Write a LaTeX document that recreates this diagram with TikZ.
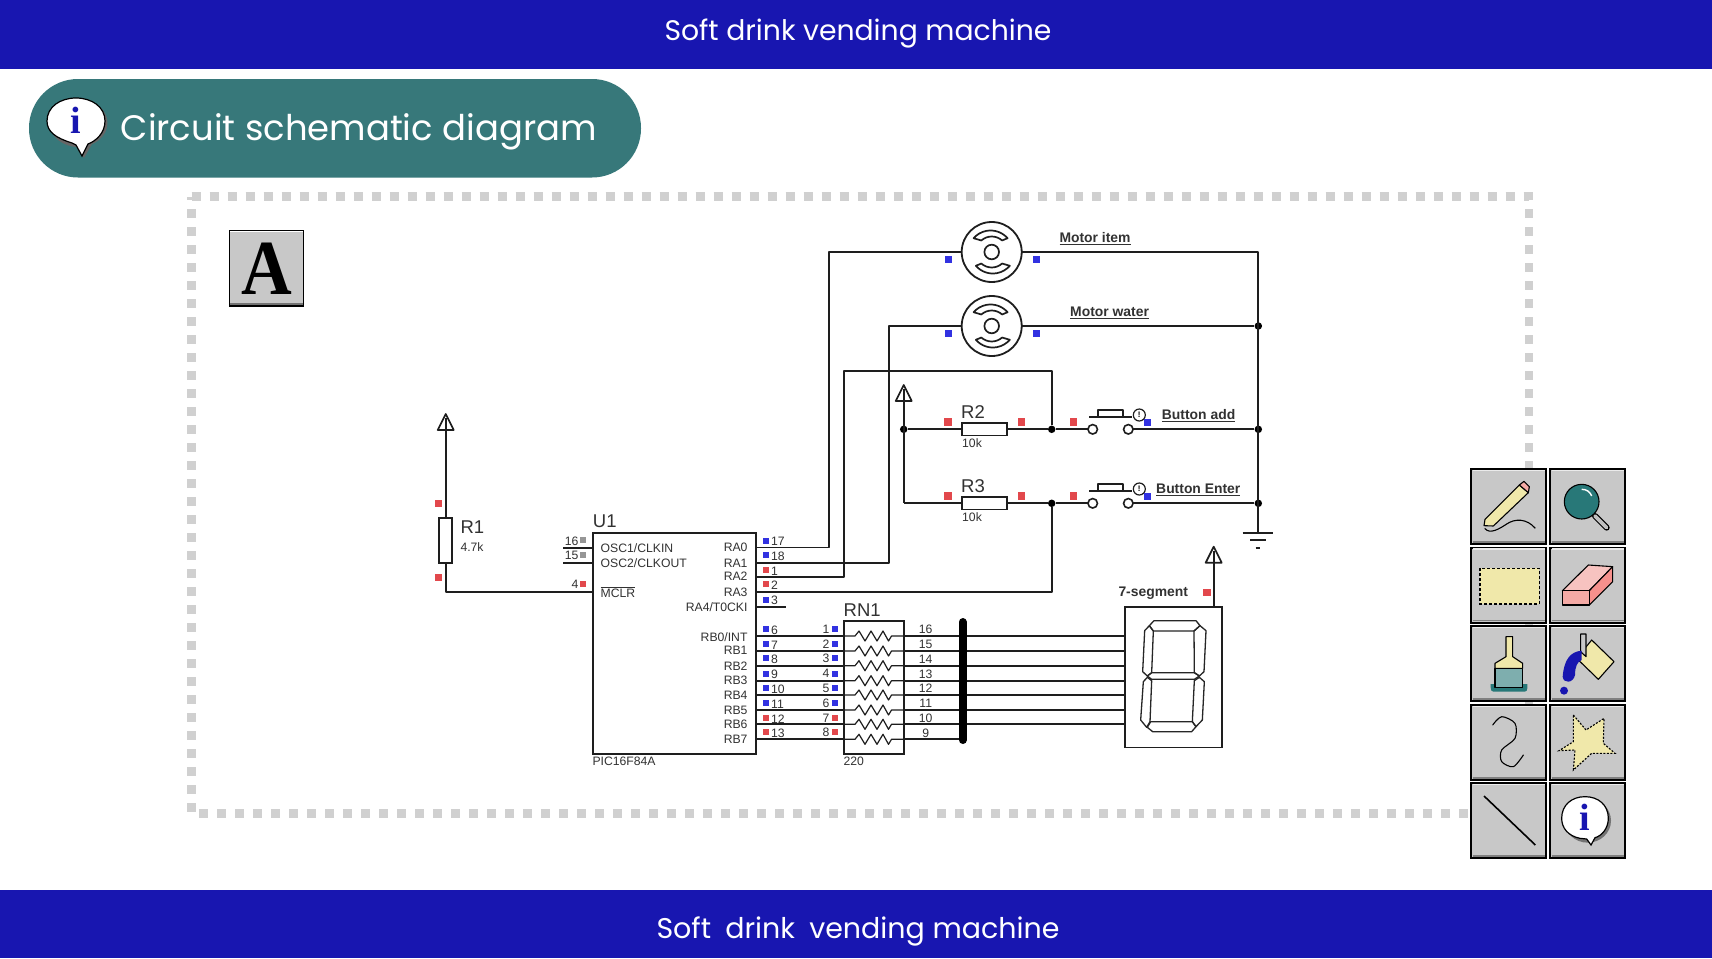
\documentclass[tikz,border=0pt]{standalone}
\usepackage{fontspec}
\setmainfont{Liberation Sans}
\newfontfamily\titlefont{Poppins}
\newfontfamily\serifb{Liberation Serif}
\definecolor{band}{RGB}{24,22,176}
\definecolor{pillc}{RGB}{55,120,122}
\definecolor{dotc}{RGB}{208,208,208}
\definecolor{btn}{RGB}{200,200,200}
\definecolor{wirec}{RGB}{30,30,30}
\definecolor{pinr}{RGB}{226,72,76}
\definecolor{pinb}{RGB}{50,50,225}
\definecolor{ping}{RGB}{150,150,150}
\definecolor{txtc}{RGB}{50,50,50}
\definecolor{yel}{RGB}{240,232,170}
\definecolor{pinkc}{RGB}{244,170,165}
\definecolor{tealc}{RGB}{40,120,120}
\tikzset{
 wire/.style={draw=wirec,line width=1.7pt,line join=round},
 pr/.style={fill=pinr,inner sep=0,minimum size=7.5pt},
 pb/.style={fill=pinb,inner sep=0,minimum size=7pt},
 pg/.style={fill=ping,inner sep=0,minimum size=6pt},
 prs/.style={fill=pinr,inner sep=0,minimum size=6pt},
 pbs/.style={fill=pinb,inner sep=0,minimum size=6pt},
 small/.style={text=txtc,inner sep=0,font=\fontsize{12.2}{13}\selectfont},
 big/.style={text=txtc,inner sep=0,anchor=west,font=\fontsize{18.5}{19}\selectfont},
 bold/.style={text=txtc,inner sep=0,font=\fontsize{13.9}{14}\selectfont\bfseries},
 res/.style={draw=wirec,line width=1.7pt,fill=white,inner sep=0,outer sep=0},
 junc/.style={circle,fill=black,inner sep=0,minimum size=7.5pt},
 motor/.style={circle,draw=wirec,line width=1.8pt,minimum size=60pt,inner sep=0,outer sep=0},
 swp/.style={circle,draw=wirec,line width=1.6pt,fill=white,minimum size=9.5pt,inner sep=0,outer sep=0},
 tool/.style={draw=black,line width=2pt,fill=btn,minimum width=75pt,minimum height=75pt,inner sep=0,outer sep=0},
 ic/.style={draw=black,line width=1.1pt,line join=round},
 pad/.style={text=white,inner sep=0},
 box/.style={draw=wirec,line width=1.8pt,inner sep=0,outer sep=0,anchor=north west}
}
\newcommand{\vccsym}[2]{\draw[wire,fill=white] (#1,#2) -- (#1-8,#2+16) -- (#1+8,#2+16) -- cycle; \draw[wire] (#1,#2+4) -- (#1,#2+16);}
\begin{document}
\begin{tikzpicture}[x=1pt,y=-1pt]
\useasboundingbox (0,0) rectangle (1712,958);
\fill[white] (0,0) rectangle (1712,958);
% bands
\fill[band] (0,0) rectangle (1712,69);
\fill[band] (0,890) rectangle (1712,958);
\node[pad] (head) at (858,33.5) {\resizebox{387pt}{!}{\titlefont\fontsize{26}{30}\selectfont Soft drink vending machine}};
\node[pad] (foot) at (858,931.5) {\resizebox{403pt}{!}{\titlefont\fontsize{26}{30}\selectfont Soft\hspace{6pt} drink\hspace{6pt} vending machine}};
% pill
\fill[pillc,rounded corners=49pt] (29,79) rectangle (641,177.5);
\node[pad,anchor=west] (ptitle) at (120.5,131.5) {\resizebox{476pt}{!}{\titlefont\fontsize{32}{40}\selectfont Circuit schematic diagram}};
% pill bubble
\fill[black!60] (78.5,123) ellipse [x radius=29, y radius=24];
\fill[black!60] (76,146) -- (84,158) -- (92,144) -- cycle;
\draw[black,line width=1.2pt,fill=white] (72,143) .. controls (56,138) and (47,132) .. (47,121) .. controls (47,107) and (60,98) .. (76,98) .. controls (92,98) and (105,107) .. (105,121) .. controls (105,133) and (96,141) .. (88,144) -- (82,156) -- (76,145) -- cycle;
\node[inner sep=0,text=band] (pi) at (76,120) {\serifb\bfseries\fontsize{38}{38}\selectfont i};
% dotted frame
\draw[dotc,line width=8.5pt,dash pattern=on 9pt off 9pt] (191.5,196.5) -- (1529,196.5) -- (1529,813.5) -- (191.5,813.5) -- cycle;
% A button
\node[draw=black,line width=1.6pt,fill=btn,minimum width=74pt,minimum height=75pt,inner sep=0] (abtn) at (266.5,268.5) {};
\draw[white,line width=1pt] (230,231.5) -- (303,231.5);
\draw[black!55,line width=1.2pt] (230,304) -- (303,304);
\node[inner sep=0,anchor=base] (atext) at (266.5,294.5) {\scalebox{0.9}[1]{\serifb\bfseries\fontsize{78}{78}\selectfont A}};
% === schematic ===
\node[box,minimum width=162.7pt,minimum height=220.7pt] (chip) at (593.3,533.3) {};
\node[box,minimum width=59.7pt,minimum height=133pt] (rn) at (844.3,621) {};
\node[box,minimum width=96.7pt,minimum height=140.7pt] (seg) at (1125,606.7) {};
\node[motor] (m1) at (991.7,252) {};
\node[motor] (m2) at (991.7,326) {};
% named points
\coordinate (ra0) at (756,547.5);
\coordinate (ra1) at (756,563);
\coordinate (ra2) at (756,577);
\coordinate (ra3) at (756,592);
\coordinate (ra4) at (756,607);
\coordinate (ra4e) at (786,607);
\coordinate (mclr) at (593.3,592);
\coordinate (osc1) at (593.3,547.7);
\coordinate (osc2) at (593.3,562.7);
\coordinate (osc1e) at (563.3,547.7);
\coordinate (osc2e) at (563.3,562.7);
\coordinate (m1w) at (829.3,252);
\coordinate (m2w) at (888.7,326);
\coordinate (n1) at (844.3,370.7);
\coordinate (rt) at (1258.3,252);
\coordinate (gnd) at (1258.3,532.7);
\coordinate (vr1) at (445.7,430);
\coordinate (vr2) at (903.7,401);
\coordinate (vseg) at (1213.7,563);
\coordinate (segtop) at (1213.7,606.7);
\node[junc] (j1) at (903.7,429.3) {};
\node[junc] (j2) at (1051.7,429.3) {};
\node[junc] (j3) at (1051.7,503.3) {};
\node[junc] (j4) at (1258.3,326) {};
\node[junc] (j5) at (1258.3,429.3) {};
\node[junc] (j6) at (1258.3,503.3) {};
\coordinate (j7) at (903.7,503.3);
\coordinate (r1b) at (445.7,592);
% wires
\draw[wire] (ra0) -| (m1w) -- (m1.west);
\draw[wire] (ra1) -| (m2w) -- (m2.west);
\draw[wire] (ra2) -| (n1) -| (j2);
\draw[wire] (ra3) -| (j3);
\draw[wire] (ra4) -- (ra4e);
\draw[wire] (osc1) -- (osc1e);
\draw[wire] (osc2) -- (osc2e);
\draw[wire] (m1.east) -- (rt) -- (gnd);
\draw[wire] (m2.east) -- (j4);
\draw[wire] (vr2) -- (j7);
\draw[wire] (vr1) -- (r1b) -- (mclr);
\draw[wire] (vseg) -- (segtop);
\vccsym{445.7}{414}
\vccsym{903.7}{385}
\vccsym{1213.7}{546.7}
% ground
\coordinate (g1) at (1242.7,532.7); \coordinate (g2) at (1273,532.7);
\coordinate (g3) at (1250,540); \coordinate (g4) at (1266,540);
\coordinate (g5) at (1255.7,547.7); \coordinate (g6) at (1260.3,547.7);
\draw[wire,line width=2pt] (g1) -- (g2); \draw[wire,line width=2pt] (g3) -- (g4); \draw[wire,line width=2pt] (g5) -- (g6);
% resistors
\node[res,minimum width=13pt,minimum height=45pt] (r1) at (445.7,540.2) {};
\node[res,minimum width=45pt,minimum height=12.5pt] (r2) at (984.8,429.3) {};
\node[res,minimum width=45pt,minimum height=12.5pt] (r3) at (984.8,503.3) {};
% switches
\foreach \n/\y in {a/429.3,b/503.3}{
  \node[swp] (sl\n) at (1092.7,\y) {};
  \node[swp] (sr\n) at (1128.3,\y) {};
  \coordinate (bl\n) at (1089,\y-12);
  \coordinate (br\n) at (1131.7,\y-12);
  \draw[wire] (bl\n) -- (br\n);
  \draw[wire] (1097.7,\y-12) -- (1097.7,\y-19.3) -- (1122.7,\y-19.3) -- (1122.7,\y-12);
  \node[circle,draw=wirec,line width=1.2pt,minimum size=12pt,inner sep=0,font=\fontsize{8}{8}\selectfont\bfseries] (sc\n) at (1139.3,\y-14.3) {!};
  \node[pb] (sq\n) at (1147,\y-7.3) {};
}
\draw[wire] (j1) -- (r2.west) (r2.east) -- (j2) -- (sla.west) (sra.east) -- (j5);
\draw[wire] (j7) -- (r3.west) (r3.east) -- (j3) -- (slb.west) (srb.east) -- (j6);
% motors inner
\foreach \c in {m1,m2}{
  \begin{scope}[shift={(\c)}]
  \draw[wirec,line width=1.7pt] (0,0) circle [radius=7.3];
  \draw[wirec,line width=1.7pt,line join=round] (48:15.5) arc [start angle=48,end angle=132,radius=15.5] -- (139:21) arc [start angle=139,end angle=41,radius=22.5] -- cycle;
  \draw[wirec,line width=1.7pt,line join=round] (228:15.5) arc [start angle=228,end angle=312,radius=15.5] -- (319:21) arc [start angle=319,end angle=221,radius=22.5] -- cycle;
  \end{scope}
}
% pin squares on motors etc
\foreach \x/\y [count=\i] in {948/259.7,1036.7/259.7,948/333.7,1036.7/333.7}{\node[pb] (mp\i) at (\x,\y) {};}
\foreach \x/\y [count=\i] in {948/422,1021.7/422,1073.3/422,948/496,1021.7/496,1073.3/496,438.3/503.7,438.3/577.7,1207/592.3}{\node[pr] (rp\i) at (\x,\y) {};}
% schematic labels
\node[big] (lr1) at (460.3,527.5) {R1};
\node[small,anchor=west] (vr1t) at (460.3,546.7) {4.7k};
\node[big] (lr2) at (961,411.7) {R2};
\node[small,anchor=west] (vr2t) at (962,443.5) {10k};
\node[big] (lr3) at (961,485.7) {R3};
\node[small,anchor=west] (vr3t) at (962,517) {10k};
\node[big] (lu1) at (592.7,521.5) {U1};
\node[small,anchor=west] (lpic) at (592.3,761.7) {PIC16F84A};
\node[big] (lrn) at (843.5,610.5) {RN1};
\node[small,anchor=west] (l220) at (843.3,761.3) {220};
\node[bold,anchor=west] (lm1) at (1059.3,239) {\underline{Motor item}};
\node[bold,anchor=west] (lm2) at (1070,312.5) {\underline{Motor water}};
\node[bold,anchor=west] (lb1) at (1161.7,416) {\underline{Button add}};
\node[bold,anchor=west] (lb2) at (1156,490) {\underline{Button Enter}};
\node[bold,anchor=west] (lseg) at (1118.3,592.8) {7-segment};
% chip text
\node[small,anchor=west] (p1) at (600.5,547.7) {OSC1/CLKIN};
\node[small,anchor=west] (p2) at (600.5,562.7) {OSC2/CLKOUT};
\node[small,anchor=west] (p3) at (600.5,592) {$\overline{\hbox{MCLR}}$};
\foreach \t/\y [count=\i] in {RA0/547.7,RA1/563,RA2/576.7,RA3/592.3,RA4\slash T0CKI/606.7,RB0\slash INT/636.7,RB1/650.7,RB2/666,RB3/680,RB4/695.3,RB5/710.7,RB6/724.3,RB7/739.7}{
  \node[small,anchor=east] (rl\i) at (747.7,\y) {\t};
}
% left pins
\node[small] (pn16) at (571.7,541.5) {16};
\node[small] (pn15) at (571.7,555) {15};
\node[small] (pn4) at (575,584.3) {4};
\node[pg] (ps16) at (583.3,540) {};
\node[pg] (ps15) at (583.3,555) {};
\node[prs] (ps4) at (583.3,584.3) {};
% right chip pins
\foreach \t/\y/\s [count=\i] in {17/540.7/pbs,18/555/pbs,1/570.3/prs,2/584.3/prs,3/599.7/pbs,6/629/pbs,7/644.3/pbs,8/658.3/pbs,9/673.7/pbs,10/688.3/pbs,11/703/pbs,12/718.3/prs,13/732.3/prs}{
  \node[\s] (cs\i) at (766,\y) {};
  \node[small,anchor=west] (cn\i) at (771,\y+1) {\t};
}
% RN1 rows
\foreach \y/\l/\ln/\rn/\s [count=\i] in {636/1/629/16/pbs,651/2/644/15/pbs,665.7/3/658.3/14/pbs,680.7/4/673.7/13/pbs,695/5/688/12/pbs,710/6/703/11/pbs,724.3/7/718/10/prs,739.3/8/732.3/9/prs}{
  \coordinate (a\i) at (756,\y);
  \coordinate (b\i) at (844.3,\y);
  \coordinate (c\i) at (904,\y);
  \coordinate (d\i) at (962.7,\y);
  \draw[wire] (a\i) -- (b\i);
  \draw[wirec,line width=1.2pt,line join=round] (b\i) -- ++(10.7,0) -- ++(4,-5) -- ++(6,10) -- ++(6,-10) -- ++(6,10) -- ++(6,-10) -- ++(5.5,10) -- ++(3,-5) -- (c\i);
  \draw[wire] (c\i) -- (d\i);
  \node[small] (nl\i) at (826,\ln) {\l};
  \node[\s] (ns\i) at (835,\ln) {};
  \node[small] (nr\i) at (925.7,\ln+0.5) {\rn};
}
\foreach \y [count=\i] in {636,651,665.7,680.7,695,710,724.3}{
  \coordinate (e\i) at (1125,\y);
  \draw[wire] (d\i) -- (e\i);
}
\coordinate (bus1) at (962.7,622);
\coordinate (bus2) at (962.7,740);
\draw[black,line width=8pt,line cap=round] (bus1) -- (bus2);
% seven segment
\begin{scope}[shift={(810,530)},scale=0.33333]
\foreach \p in {
 {(1018,287) -- (1032,272) -- (1158,272) -- (1170,287) -- (1152,303) -- (1030,303) -- cycle},
 {(1004,302) -- (1018,287) -- (1030,303) -- (1025,428) -- (1012,438) -- (998,425) -- cycle},
 {(1170,287) -- (1188,302) -- (1182,425) -- (1168,438) -- (1153,428) -- (1152,303) -- cycle},
 {(1012,438) -- (1025,428) -- (1153,428) -- (1168,438) -- (1153,448) -- (1025,448) -- cycle},
 {(1000,455) -- (1012,442) -- (1025,452) -- (1020,575) -- (1010,592) -- (992,570) -- cycle},
 {(1168,442) -- (1183,455) -- (1177,570) -- (1158,590) -- (1147,575) -- (1153,452) -- cycle},
 {(1012,592) -- (1022,575) -- (1147,575) -- (1158,590) -- (1145,605) -- (1028,605) -- cycle}}{
  \draw[black!85,line width=1.3pt,line join=round] \p;
}
\end{scope}
% === toolbar ===
\foreach \x/\y [count=\i] in {1508.5/506.5,1587.8/506.5,1508.5/585,1587.8/585,1508.5/663.7,1587.8/663.7,1508.5/742.3,1587.8/742.3,1508.5/820.5,1587.8/820.5}{
  \node[tool] (t\i) at (\x,\y) {};
  \draw[white!92!black,line width=1.2pt] ([shift={(1.5,1.5)}]t\i.north west) -- ([shift={(-1.5,1.5)}]t\i.north east);
  \draw[black!50,line width=1.6pt] ([shift={(1.5,-2)}]t\i.south west) -- ([shift={(-1.5,-2)}]t\i.south east);
}
\begin{scope}[shift={(1460,460)},scale=0.33333]
% pencil
\draw[ic,fill=yel] (75,178) -- (178,75) -- (205,98) -- (100,198) -- (72,197) -- cycle;
\draw[ic,fill=pinkc] (178,75) -- (192,64) -- (208,80) -- (205,98) -- cycle;
\draw[ic] (74,205) .. controls (90,225) and (120,205) .. (140,192) .. controls (165,175) and (200,175) .. (226,205);
% magnifier
\draw[black,line width=6pt,line cap=round] (405,168) -- (440,203);
\draw[black!25,line width=3.6pt,line cap=round] (405,168) -- (440,203);
\draw[ic,fill=tealc] (365,125) circle [radius=52];
\draw[white,line width=1.4pt] (365,88) .. controls (380,88) and (390,95) .. (395,108);
% marquee
\draw[black,line width=1.3pt,fill=yel,dash pattern=on 3pt off 2pt] (60,325) rectangle (238,432);
% eraser
\draw[ic,fill=pinkc!70!white] (307,392) -- (385,315) -- (458,320) -- (388,392) -- cycle;
\draw[ic,fill=pinkc!85!red] (388,392) -- (458,320) -- (458,365) -- (388,435) -- cycle;
\draw[ic,fill=pinkc] (307,392) rectangle (388,435);
% brush
\fill[tealc] (92,672) .. controls (92,695) and (92,695) .. (110,695) -- (185,695) .. controls (202,695) and (202,695) .. (202,672) -- cycle;
\draw[ic,fill=yel] (138,530) -- (158,530) -- (158,590) -- (188,610) -- (188,625) -- (105,625) -- (105,610) -- (138,590) -- cycle;
\draw[ic,fill=tealc!60!white] (105,625) rectangle (188,682);
% bucket
\draw[ic,fill=yel] (395,540) -- (462,605) -- (415,658) -- (350,595) -- cycle;
\draw[ic,fill=btn] (362,522) -- (378,522) -- (378,590) -- (362,575) -- cycle;
\fill[band] (365,572) .. controls (330,575) and (312,600) .. (308,650) .. controls (310,672) and (340,670) .. (345,645) .. controls (345,620) and (352,605) .. (365,600) -- cycle;
\fill[band] (312,692) circle [radius=12];
% hook
\draw[black,line width=1.1pt,line cap=round] plot[smooth] coordinates {(98,795) (125,770) (165,790) (165,835) (125,870) (125,905) (160,920) (190,885)};
% star
\draw[black,line width=1.1pt,fill=yel,dash pattern=on 2pt off 1.5pt] (340,765) -- (378,810) -- (432,775) -- (430,850) -- (465,880) -- (395,880) -- (340,930) -- (345,870) -- (297,872) -- (340,845) -- cycle;
% line
\draw[black,line width=1.6pt] (72,1008) -- (226,1155);
% bubble
\fill[black!55] (383,1082) ellipse [x radius=70, y radius=66];
\draw[black,line width=1.2pt,fill=white] (360,1135) .. controls (325,1128) and (305,1105) .. (305,1075) .. controls (305,1035) and (335,1010) .. (375,1010) .. controls (415,1010) and (445,1035) .. (445,1075) .. controls (445,1105) and (425,1128) .. (405,1133) -- (393,1155) -- (380,1137) -- cycle;
\end{scope}
\node[inner sep=0,text=band] (ti) at (1585,817) {\serifb\bfseries\fontsize{38}{38}\selectfont i};
\end{tikzpicture}
\end{document}
